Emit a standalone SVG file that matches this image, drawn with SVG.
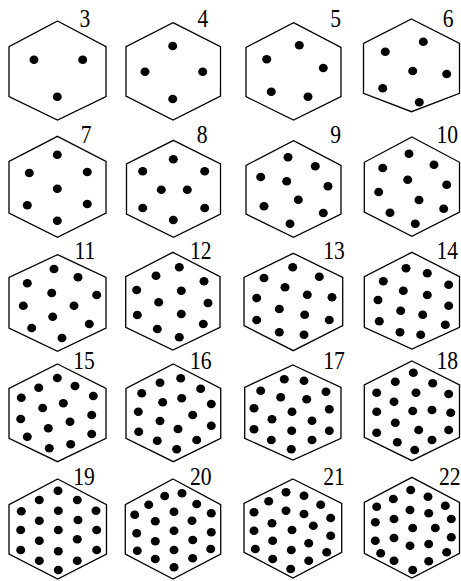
<svg xmlns="http://www.w3.org/2000/svg" xmlns:xlink="http://www.w3.org/1999/xlink" width="461" height="581" viewBox="0 0 461 581">
<style>
.hx{fill:none;stroke:#000;stroke-width:1.3;stroke-linejoin:miter}
.lb{font-family:"Liberation Serif","Times New Roman",serif;font-size:24px;fill:#000;text-anchor:end}
</style>
<defs><ellipse id="d" rx="4.5" ry="4.3" fill="#000"/></defs>
<rect width="461" height="581" fill="#fff"/>
<g id="hex3"><polygon class="hx" points="57.5,21 106,46.7 106,96.7 57.5,120 9,96.7 9,46.7"/><text class="lb" transform="translate(90.3,26.7) scale(0.9,1.03)">3</text>
<use href="#d" x="34" y="59.7"/><use href="#d" x="82.7" y="59.7"/><use href="#d" x="57.3" y="96.7"/></g>
<g id="hex4"><polygon class="hx" points="173,22.7 220.5,46.7 220.5,96 173,120 126,96 126,46.7"/><text class="lb" transform="translate(208.3,26.7) scale(0.9,1.03)">4</text>
<use href="#d" x="172.7" y="46"/><use href="#d" x="145" y="71.7"/><use href="#d" x="202.7" y="71.7"/><use href="#d" x="172.7" y="99"/></g>
<g id="hex5"><polygon class="hx" points="293.5,22.7 341,47.3 341,96.7 293.5,120 246,96.7 246,47.3"/><text class="lb" transform="translate(341,26.7) scale(0.9,1.03)">5</text>
<use href="#d" x="299.3" y="45.3"/><use href="#d" x="266.7" y="59.3"/><use href="#d" x="323.3" y="68"/><use href="#d" x="271.3" y="91.7"/><use href="#d" x="308" y="96.7"/></g>
<g id="hex6"><polygon class="hx" points="411.5,19 459.5,43.3 459.5,93.3 411.5,111.7 363.5,93.3 363.5,43.3"/><text class="lb" transform="translate(453.5,26.7) scale(0.9,1.03)">6</text>
<use href="#d" x="385.3" y="51.7"/><use href="#d" x="423.3" y="41.7"/><use href="#d" x="412.7" y="71"/><use href="#d" x="446.7" y="74"/><use href="#d" x="382.7" y="88.3"/><use href="#d" x="419.3" y="102.3"/></g>

<g id="hex7"><polygon class="hx" points="57.5,136.3 106,161.3 106,213 57.5,237.3 9,213 9,161.3"/><text class="lb" transform="translate(91.5,143) scale(0.9,1.03)">7</text>
<use href="#d" x="57.3" y="154.7"/><use href="#d" x="29.3" y="173"/><use href="#d" x="87.3" y="172"/><use href="#d" x="57.3" y="188.7"/><use href="#d" x="27.3" y="205.3"/><use href="#d" x="87.3" y="204"/><use href="#d" x="57.3" y="220.7"/></g>
<g id="hex8"><polygon class="hx" points="173.5,140.3 220.5,164 220.5,214 173.5,237.3 126.5,214 126.5,164"/><text class="lb" transform="translate(207.5,143) scale(0.9,1.03)">8</text>
<use href="#d" x="173.3" y="159.3"/><use href="#d" x="142.7" y="171.3"/><use href="#d" x="204.7" y="171.3"/><use href="#d" x="161.3" y="189.7"/><use href="#d" x="187.3" y="189.7"/><use href="#d" x="142.7" y="208"/><use href="#d" x="204.7" y="208"/><use href="#d" x="173.3" y="220"/></g>
<g id="hex9"><polygon class="hx" points="293.5,140.7 341,165.3 341,214 293.5,237.3 246,214 246,165.3"/><text class="lb" transform="translate(341,143) scale(0.9,1.03)">9</text>
<use href="#d" x="288" y="157.3"/><use href="#d" x="315.3" y="166.3"/><use href="#d" x="260.7" y="177"/><use href="#d" x="286.7" y="181.3"/><use href="#d" x="328" y="186.3"/><use href="#d" x="298.3" y="199.7"/><use href="#d" x="264" y="206.3"/><use href="#d" x="323.3" y="213"/><use href="#d" x="290" y="223.7"/></g>
<g id="hex10"><polygon class="hx" points="411.9,137 459.5,162.3 459.5,212 411.9,236.3 364.3,212 364.3,162.3"/><text class="lb" transform="translate(458,143) scale(0.9,1.03)">10</text>
<use href="#d" x="409" y="153.7"/><use href="#d" x="382.7" y="168"/><use href="#d" x="434" y="164.7"/><use href="#d" x="407.7" y="179.7"/><use href="#d" x="446.7" y="184.7"/><use href="#d" x="378.7" y="192"/><use href="#d" x="419" y="200"/><use href="#d" x="390" y="212.7"/><use href="#d" x="443.7" y="208.7"/><use href="#d" x="415.3" y="223.7"/></g>

<g id="hex11"><polygon class="hx" points="57.5,254.7 106,277.3 106,328 57.5,351.3 9,328 9,277.3"/><text class="lb" transform="translate(95.3,259) scale(0.9,1.03)">11</text>
<use href="#d" x="54" y="269"/><use href="#d" x="27.3" y="283.3"/><use href="#d" x="78" y="277.3"/><use href="#d" x="51.7" y="293"/><use href="#d" x="96.7" y="295"/><use href="#d" x="23.3" y="305.7"/><use href="#d" x="74" y="305.7"/><use href="#d" x="52.7" y="316.7"/><use href="#d" x="31.7" y="328"/><use href="#d" x="89.3" y="324"/><use href="#d" x="62" y="338"/></g>
<g id="hex12"><polygon class="hx" points="172.9,252.3 220,276.7 220,327.3 172.9,350 125.7,327.3 125.7,276.7"/><text class="lb" transform="translate(211.5,259) scale(0.9,1.03)">12</text>
<use href="#d" x="179.3" y="267.3"/><use href="#d" x="156" y="275.7"/><use href="#d" x="204" y="281.3"/><use href="#d" x="136.7" y="290"/><use href="#d" x="181.3" y="290.7"/><use href="#d" x="158.7" y="302.3"/><use href="#d" x="208" y="303"/><use href="#d" x="137.3" y="315"/><use href="#d" x="181.3" y="314"/><use href="#d" x="157.3" y="329"/><use href="#d" x="203.3" y="324"/><use href="#d" x="179.3" y="337.3"/></g>
<g id="hex13"><polygon class="hx" points="293.3,253.3 342.7,277.3 342.7,325.7 293.3,350.7 244,325.7 244,277.3"/><text class="lb" transform="translate(344.8,259) scale(0.9,1.03)">13</text>
<use href="#d" x="292.7" y="267.3"/><use href="#d" x="264" y="278"/><use href="#d" x="319.3" y="276.7"/><use href="#d" x="285" y="287.3"/><use href="#d" x="256.7" y="298"/><use href="#d" x="307.3" y="294.7"/><use href="#d" x="332" y="297.3"/><use href="#d" x="279.3" y="309"/><use href="#d" x="304.7" y="314.7"/><use href="#d" x="256.7" y="320"/><use href="#d" x="329.3" y="320"/><use href="#d" x="279.3" y="332.3"/><use href="#d" x="304" y="334.7"/></g>
<g id="hex14"><polygon class="hx" points="411.9,252.3 459.5,276.7 459.5,327.3 411.9,349 364.3,327.3 364.3,276.7"/><text class="lb" transform="translate(458,259) scale(0.9,1.03)">14</text>
<use href="#d" x="406" y="268.3"/><use href="#d" x="427.3" y="273.3"/><use href="#d" x="383.3" y="281.3"/><use href="#d" x="448.7" y="284.7"/><use href="#d" x="403.3" y="290.7"/><use href="#d" x="427.3" y="295"/><use href="#d" x="378" y="300"/><use href="#d" x="400.7" y="310.7"/><use href="#d" x="422.7" y="314.7"/><use href="#d" x="448.7" y="305.7"/><use href="#d" x="379.3" y="321.3"/><use href="#d" x="445.3" y="324.7"/><use href="#d" x="400" y="332.3"/><use href="#d" x="420.7" y="334.7"/></g>

<g id="hex15"><polygon class="hx" points="57.5,364 106,388.3 106,438.3 57.5,461.7 9,438.3 9,388.3"/><text class="lb" transform="translate(94.8,368.5) scale(0.9,1.03)">15</text>
<use href="#d" x="57.3" y="378"/><use href="#d" x="38.7" y="387.7"/><use href="#d" x="75" y="386"/><use href="#d" x="21.3" y="397.7"/><use href="#d" x="93.3" y="396"/><use href="#d" x="42.7" y="408"/><use href="#d" x="63.3" y="403.3"/><use href="#d" x="20.7" y="419"/><use href="#d" x="70" y="421.7"/><use href="#d" x="91.7" y="415"/><use href="#d" x="48.3" y="428.3"/><use href="#d" x="27.3" y="436.7"/><use href="#d" x="91.7" y="434"/><use href="#d" x="49.3" y="448.3"/><use href="#d" x="70.7" y="444.3"/></g>
<g id="hex16"><polygon class="hx" points="173.3,364 220.7,388.3 220.7,438.3 173.3,461.7 126,438.3 126,388.3"/><text class="lb" transform="translate(211.5,368.5) scale(0.9,1.03)">16</text>
<use href="#d" x="180.7" y="378.3"/><use href="#d" x="160" y="382.7"/><use href="#d" x="200.7" y="388.7"/><use href="#d" x="141.7" y="393.3"/><use href="#d" x="181.7" y="398.3"/><use href="#d" x="162.7" y="402.3"/><use href="#d" x="211.3" y="404"/><use href="#d" x="138.3" y="411.7"/><use href="#d" x="192.7" y="415"/><use href="#d" x="160" y="421"/><use href="#d" x="211.3" y="425.7"/><use href="#d" x="178" y="429"/><use href="#d" x="138.7" y="431.7"/><use href="#d" x="157.3" y="440.7"/><use href="#d" x="196.7" y="440"/><use href="#d" x="176.7" y="449.3"/></g>
<g id="hex17"><polygon class="hx" points="292.9,365 341,387.3 341,438.3 292.9,460 244.7,438.3 244.7,387.3"/><text class="lb" transform="translate(344.8,368.5) scale(0.9,1.03)">17</text>
<use href="#d" x="284.3" y="379.3"/><use href="#d" x="304" y="380.7"/><use href="#d" x="260.7" y="390.7"/><use href="#d" x="326" y="391.7"/><use href="#d" x="280.7" y="397.3"/><use href="#d" x="306.7" y="399.3"/><use href="#d" x="254" y="408.3"/><use href="#d" x="329.3" y="409.3"/><use href="#d" x="292" y="411.7"/><use href="#d" x="272" y="419.3"/><use href="#d" x="312" y="420.7"/><use href="#d" x="254" y="429.3"/><use href="#d" x="291.7" y="430.7"/><use href="#d" x="329.3" y="430.7"/><use href="#d" x="271.3" y="440"/><use href="#d" x="312" y="440"/><use href="#d" x="291.3" y="449.3"/></g>
<g id="hex18"><polygon class="hx" points="411.9,361 459.5,385 459.5,437.3 411.9,460.7 364.3,437.3 364.3,385"/><text class="lb" transform="translate(458,368.5) scale(0.9,1.03)">18</text>
<use href="#d" x="413.3" y="372.7"/><use href="#d" x="395.3" y="381.7"/><use href="#d" x="432.7" y="383.3"/><use href="#d" x="376.7" y="392.7"/><use href="#d" x="416" y="392.7"/><use href="#d" x="448.7" y="394"/><use href="#d" x="394" y="401.7"/><use href="#d" x="376.7" y="411.7"/><use href="#d" x="412.7" y="411"/><use href="#d" x="432" y="410"/><use href="#d" x="450.7" y="412.7"/><use href="#d" x="395.3" y="422.7"/><use href="#d" x="418.7" y="430"/><use href="#d" x="376.7" y="432.7"/><use href="#d" x="448.7" y="430"/><use href="#d" x="397.3" y="442.3"/><use href="#d" x="432" y="440"/><use href="#d" x="414.7" y="450"/></g>

<g id="hex19"><polygon class="hx" points="57.7,479 106.5,504.7 106.5,554 57.7,579 9,554 9,504.7"/><text class="lb" transform="translate(94.8,484.5) scale(0.9,1.03)">19</text>
<use href="#d" x="58" y="490.7"/><use href="#d" x="39.3" y="500"/><use href="#d" x="77.3" y="500"/><use href="#d" x="21.3" y="511.3"/><use href="#d" x="58.3" y="510.7"/><use href="#d" x="96" y="510.7"/><use href="#d" x="39.3" y="520.7"/><use href="#d" x="78" y="520"/><use href="#d" x="20.7" y="530"/><use href="#d" x="58.3" y="530"/><use href="#d" x="96.7" y="530"/><use href="#d" x="39.3" y="540.7"/><use href="#d" x="77.3" y="539.3"/><use href="#d" x="20.7" y="550"/><use href="#d" x="58.3" y="551.3"/><use href="#d" x="96.7" y="550"/><use href="#d" x="39.3" y="560.7"/><use href="#d" x="77.3" y="560.7"/><use href="#d" x="58.3" y="570"/></g>
<g id="hex20"><polygon class="hx" points="173,479 220.7,504.7 220.7,554 173,579 125.3,554 125.3,504.7"/><text class="lb" transform="translate(211.5,484.5) scale(0.9,1.03)">20</text>
<use href="#d" x="182" y="493.3"/><use href="#d" x="164.7" y="496"/><use href="#d" x="148.7" y="504.7"/><use href="#d" x="196.7" y="504"/><use href="#d" x="134.7" y="514.7"/><use href="#d" x="174" y="511.7"/><use href="#d" x="211.3" y="513.3"/><use href="#d" x="155.3" y="521.3"/><use href="#d" x="192" y="520.7"/><use href="#d" x="136.7" y="533.3"/><use href="#d" x="174" y="530.7"/><use href="#d" x="211.3" y="532.3"/><use href="#d" x="155.3" y="541.3"/><use href="#d" x="192.7" y="540"/><use href="#d" x="137.3" y="550.7"/><use href="#d" x="174" y="550"/><use href="#d" x="210.7" y="549"/><use href="#d" x="155.3" y="559"/><use href="#d" x="192.7" y="558.3"/><use href="#d" x="174" y="567.3"/></g>
<g id="hex21"><polygon class="hx" points="292.9,479 341.7,503.3 341.7,552.3 292.9,578 244,552.3 244,503.3"/><text class="lb" transform="translate(344.8,484.5) scale(0.9,1.03)">21</text>
<use href="#d" x="286" y="492.3"/><use href="#d" x="304" y="495.7"/><use href="#d" x="268.7" y="501.3"/><use href="#d" x="320.7" y="504.7"/><use href="#d" x="254" y="512.3"/><use href="#d" x="286" y="510.7"/><use href="#d" x="304" y="514"/><use href="#d" x="330.7" y="518"/><use href="#d" x="272" y="523.3"/><use href="#d" x="292" y="530"/><use href="#d" x="313.3" y="525.7"/><use href="#d" x="254" y="530.7"/><use href="#d" x="330.7" y="535.7"/><use href="#d" x="272.7" y="540.7"/><use href="#d" x="308.7" y="543.3"/><use href="#d" x="255.3" y="549"/><use href="#d" x="291.3" y="550"/><use href="#d" x="326.7" y="552.3"/><use href="#d" x="272.7" y="559"/><use href="#d" x="308.7" y="560.7"/><use href="#d" x="290.7" y="569"/></g>
<g id="hex22"><polygon class="hx" points="411.9,477.3 459.5,502.3 459.5,553.3 411.9,578 364.3,553.3 364.3,502.3"/><text class="lb" transform="translate(460.5,484.5) scale(0.9,1.03)">22</text>
<use href="#d" x="410.7" y="490"/><use href="#d" x="393.3" y="499"/><use href="#d" x="428" y="496.7"/><use href="#d" x="376.7" y="506.7"/><use href="#d" x="410" y="510"/><use href="#d" x="445.3" y="505.7"/><use href="#d" x="428.7" y="513.3"/><use href="#d" x="394" y="519"/><use href="#d" x="451.3" y="519"/><use href="#d" x="375.3" y="522.3"/><use href="#d" x="412.7" y="528"/><use href="#d" x="435.3" y="528"/><use href="#d" x="394" y="538"/><use href="#d" x="375.3" y="540.7"/><use href="#d" x="451.3" y="537.3"/><use href="#d" x="410" y="545.7"/><use href="#d" x="428.7" y="544"/><use href="#d" x="380.7" y="553.3"/><use href="#d" x="446.7" y="552.3"/><use href="#d" x="394" y="560.7"/><use href="#d" x="428.7" y="561.3"/><use href="#d" x="412.7" y="570"/></g>
</svg>
